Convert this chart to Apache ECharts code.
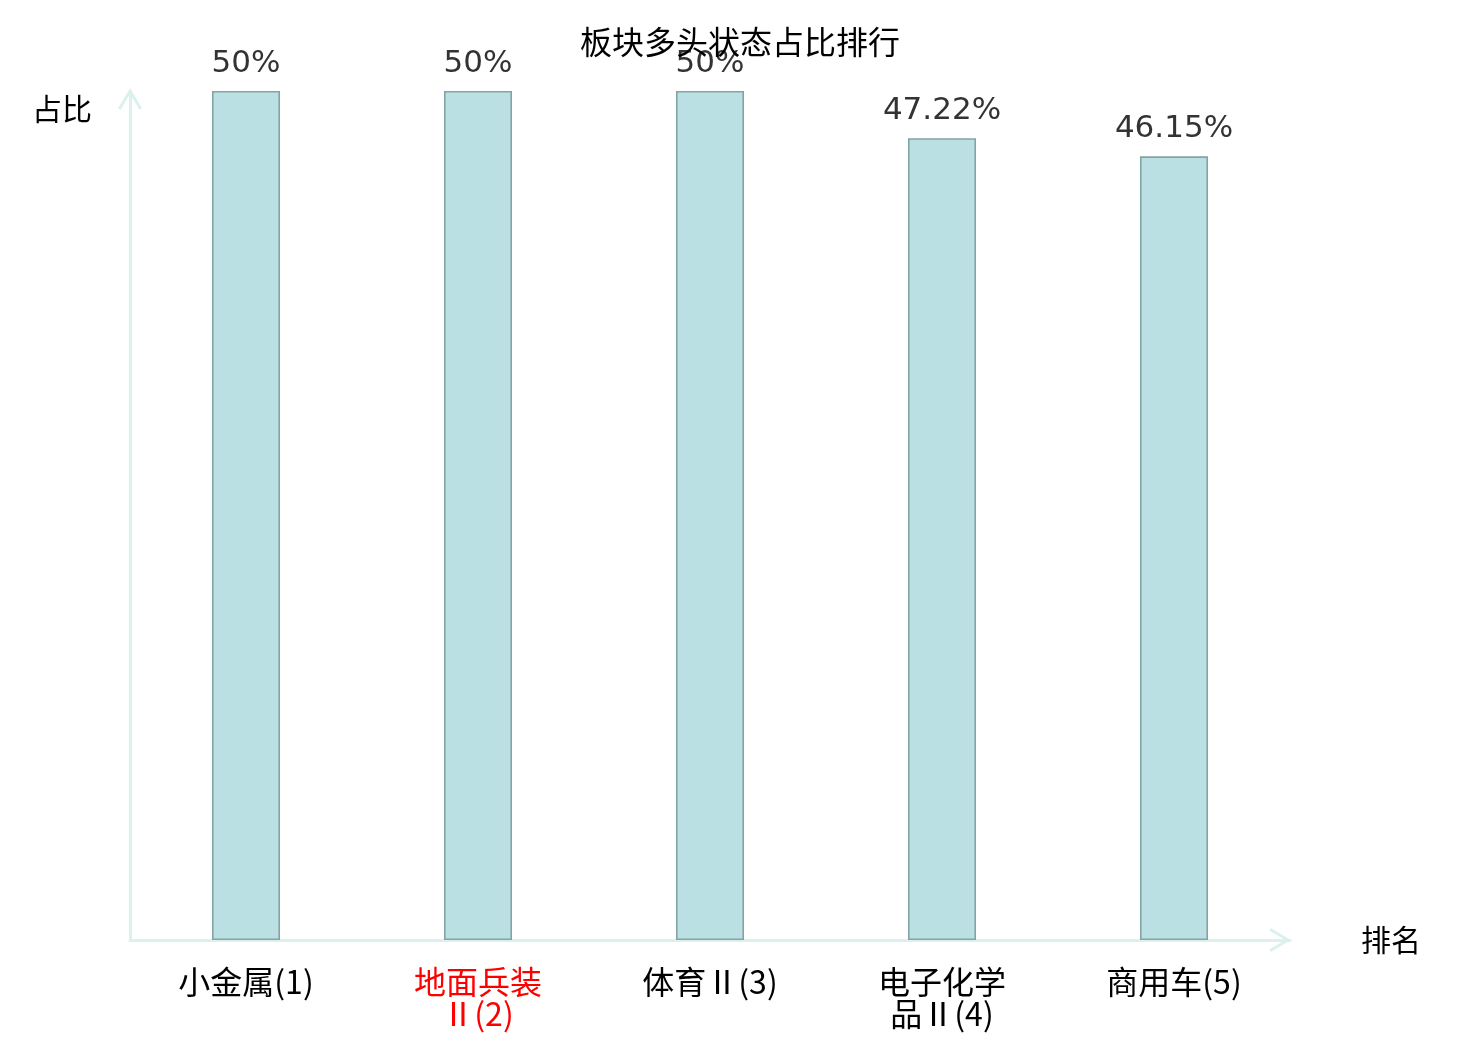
<!DOCTYPE html>
<html>
<head>
<meta charset="utf-8">
<script src="https://cdn.jsdelivr.net/npm/echarts@6/dist/echarts.min.js"></script>
<style>
  html, body { margin: 0; padding: 0; background: #ffffff; }
  #chart { width: 1480px; height: 1040px; }
</style>
</head>
<body>
<div id="chart"></div>
<script>
const titleText = '板块多头状态占比排行';
const categories = ['小金属(1)', '地面兵装Ⅱ(2)', '体育Ⅱ(3)', '电子化学品Ⅱ(4)', '商用车(5)'];
const values = [50, 50, 50, 47.22, 46.15];
const highlightIndex = 1;
const yName = '占比';
const xName = '排名';

const CJK = '"Noto Sans CJK SC", sans-serif';
const chevron = 'path://M0,20 L12,0 L24,20 L21.4,21.6 L12,5.6 L2.6,21.6 Z';
const axisColor = '#daf1ee';

function wrapName(s) {
  if (s.length <= 6) return s;
  return s.slice(0, 4) + '\n' + s.slice(4);
}

const chart = echarts.init(document.getElementById('chart'));
chart.setOption({
  backgroundColor: '#ffffff',
  animation: false,
  title: {
    text: titleText,
    left: 'center',
    top: 21,
    textStyle: { fontFamily: CJK, fontSize: 32, fontWeight: 'normal', color: '#000000' }
  },
  grid: { left: 130, right: 190, top: 91, bottom: 100, containLabel: false },
  xAxis: {
    type: 'category',
    data: categories,
    name: xName,
    nameLocation: 'end',
    nameGap: 71,
    nameTextStyle: { fontFamily: CJK, fontSize: 30, color: '#000000', align: 'left', verticalAlign: 'middle' },
    axisTick: { show: false },
    axisLine: {
      show: true,
      symbol: ['none', chevron],
      symbolSize: [24, 22],
      symbolOffset: [0, -10],
      lineStyle: { color: axisColor, width: 3 }
    },
    axisLabel: {
      interval: 0,
      margin: 26,
      fontFamily: CJK,
      fontSize: 32,
      lineHeight: 32,
      color: function (v, i) { return i === highlightIndex ? '#ff0000' : '#000000'; },
      formatter: function (v) { return wrapName(v); }
    },
    splitLine: { show: false }
  },
  yAxis: {
    type: 'value',
    min: 0,
    max: 50,
    name: yName,
    nameLocation: 'end',
    nameGap: -18,
    nameTextStyle: { fontFamily: CJK, fontSize: 30, color: '#000000', align: 'right', verticalAlign: 'middle', padding: [0, 38, 0, 0] },
    axisLine: {
      show: true,
      symbol: ['none', chevron],
      symbolSize: [24, 22],
      symbolOffset: [0, -8],
      lineStyle: { color: axisColor, width: 3 }
    },
    axisTick: { show: false },
    axisLabel: { show: false },
    splitLine: { show: false }
  },
  series: [{
    type: 'bar',
    data: values,
    barWidth: 68,
    itemStyle: { color: '#bbe0e3', borderColor: '#84a3a4', borderWidth: 1.6 },
    label: {
      show: true,
      position: 'top',
      distance: 12,
      fontFamily: '"DejaVu Sans", sans-serif',
      fontSize: 31,
      color: '#333333',
      formatter: function (p) { return p.value + '%'; }
    }
  }]
});
</script>
</body>
</html>
